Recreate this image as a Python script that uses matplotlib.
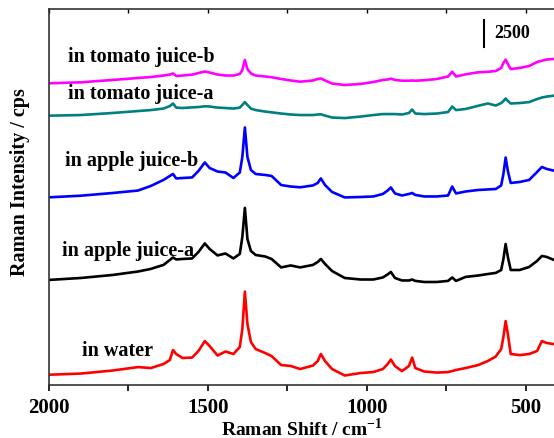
import numpy as np
import matplotlib
matplotlib.use("Agg")
import matplotlib.pyplot as plt
from matplotlib.ticker import MultipleLocator, NullFormatter

# Raman shift grid (cm-1) shared by all spectra
shift = [2000, 1900, 1800, 1720, 1680, 1640, 1620, 1610, 1600, 1580,
         1550, 1530, 1510, 1495, 1470, 1445, 1420, 1400, 1392, 1384,
         1376, 1365, 1350, 1320, 1300, 1270, 1240, 1210, 1170, 1155,
         1145, 1132, 1110, 1070, 1020, 980, 950, 935, 925, 912,
         890, 868, 858, 848, 820, 780, 745, 732, 720, 690,
         650, 620, 595, 578, 571, 564, 557, 548, 520, 490,
         465, 450, 435, 412]

# intensities (cps)
water = [120, 230, 510, 830, 740, 1110, 1480, 2410, 2040, 1670,
         1710, 2320, 3240, 2780, 1900, 2270, 2040, 2690, 4350, 7820,
         4820, 3150, 2500, 2130, 1850, 1020, 930, 650, 970, 1390,
         2040, 1390, 650, 50, 280, 370, 650, 1110, 1530, 930,
         460, 930, 1710, 740, 420, 320, 370, 460, 560, 740,
         1020, 1390, 1810, 2500, 3610, 5090, 3890, 2040, 1940, 2040,
         2320, 3240, 3060, 2960]

apple_a = [280, 460, 740, 1060, 1300, 1670, 2130, 2360, 2180, 2220,
           2270, 2870, 3660, 3150, 2550, 2730, 2270, 2690, 4260, 6950,
           4070, 2960, 2590, 2450, 2220, 1440, 1620, 1440, 1670, 1940,
           2220, 1760, 1110, 460, 320, 320, 510, 790, 1020, 460,
           230, 230, 320, 190, 90, 90, 190, 510, 190, 560,
           690, 830, 930, 1200, 2220, 3610, 2410, 1200, 1200, 1480,
           2040, 2500, 2410, 2130]

apple_b = [60, 210, 460, 690, 1110, 1670, 2040, 2220, 1810, 1850,
           1900, 2500, 3290, 2780, 2450, 2360, 1850, 2360, 3800, 6530,
           3800, 2590, 2220, 2130, 2040, 1200, 1060, 990, 1160, 1390,
           1810, 1200, 560, 50, 90, 140, 370, 690, 970, 420,
           230, 370, 460, 280, 140, 140, 230, 1060, 420, 600,
           740, 790, 830, 1160, 2220, 3750, 2500, 1390, 1480, 1670,
           2410, 2870, 2690, 2530]

tomato_a = [310, 370, 560, 740, 830, 970, 1200, 1440, 1060, 1020,
            1080, 1110, 1180, 1160, 1060, 1020, 970, 1060, 1300, 1570,
            1300, 970, 830, 690, 620, 510, 420, 370, 370, 420,
            440, 320, 140, 90, 230, 370, 460, 460, 460, 460,
            420, 560, 880, 510, 460, 510, 650, 1160, 830, 930,
            1230, 1440, 1250, 1480, 1670, 1900, 1670, 1440, 1480, 1570,
            1850, 1990, 2080, 2160]

tomato_b = [250, 340, 560, 740, 830, 970, 1060, 1160, 930, 970,
            1050, 1200, 1340, 1250, 1060, 970, 970, 1110, 1480, 2410,
            1570, 1160, 970, 880, 810, 650, 510, 400, 510, 650,
            690, 510, 230, 90, 190, 370, 560, 600, 680, 560,
            490, 490, 510, 490, 530, 650, 880, 1320, 880, 1080,
            1270, 1310, 1390, 1670, 2130, 2440, 2040, 1570, 1670, 1850,
            2220, 2340, 2450, 2500]

names = ["in water", "in apple juice-a", "in apple juice-b",
         "in tomato juice-a", "in tomato juice-b"]
offsets = [830, 9450, 17320, 24630, 27690]
colors = ["#ff0000", "#000000", "#0000ff", "#008080", "#ff00ff"]
label_x = [1895, 1960, 1950, 1940, 1940]
label_y = [3250, 12510, 20830, 27020, 30450]
scale_bar = 2500

plt.rcParams['font.family'] = ['Liberation Serif', 'DejaVu Serif']
plt.rcParams['font.weight'] = 'bold'
plt.rcParams['mathtext.fontset'] = 'custom'
plt.rcParams['mathtext.rm'] = 'Liberation Serif'
plt.rcParams['mathtext.bf'] = 'Liberation Serif:bold'

fig = plt.figure(figsize=(5.54, 4.39), dpi=100)
ax = fig.add_axes([49 / 554, 53 / 439, 511 / 554, 376 / 439])

spectra = [water, apple_a, apple_b, tomato_a, tomato_b]
for y, off, c in zip(spectra, offsets, colors):
    ax.plot(shift, np.array(y) + off, color=c, lw=1.9)

for name, lx, ly in zip(names, label_x, label_y):
    ax.text(lx, ly, name, fontsize=14.5, fontweight='bold', va='center', ha='left')

# intensity scale bar
bar_x, bar_y0 = 632, 31300
ax.plot([bar_x, bar_x], [bar_y0, bar_y0 + scale_bar], color='black', lw=1.5)
ax.text(bar_x - 31, bar_y0 + scale_bar / 2 + 100, str(scale_bar), fontsize=13,
        fontweight='bold', va='center', ha='left')

ax.set_xlim(2000, 393)
ax.set_ylim(0, 34820)
ax.spines['right'].set_visible(False)
for s in ['left', 'bottom', 'top']:
    ax.spines[s].set_linewidth(1.2)
    ax.spines[s].set_color('#333333')

ax.xaxis.set_major_locator(MultipleLocator(500))
ax.xaxis.set_minor_locator(MultipleLocator(250))
ax.tick_params(axis='x', which='both', direction='out', length=4, width=1.2,
               labelsize=15, pad=5, top=False)
ax.set_yticks([])

# inward ticks along the top edge
top = ax.secondary_xaxis('top')
top.xaxis.set_major_locator(MultipleLocator(250))
top.xaxis.set_major_formatter(NullFormatter())
top.tick_params(direction='in', length=3, width=1.0)
top.spines['top'].set_visible(False)

fig.text(302 / 554, 1 - 429 / 439, "Raman Shift / cm$^{\\mathbf{-1}}$",
         fontsize=14, fontweight='bold', ha='center', va='center')
fig.text(20 / 554, 1 - 182 / 439, "Raman Intensity / cps", rotation=90,
         fontsize=14.5, fontweight='bold', ha='center', va='center')

fig.savefig("out.png", dpi=100)
